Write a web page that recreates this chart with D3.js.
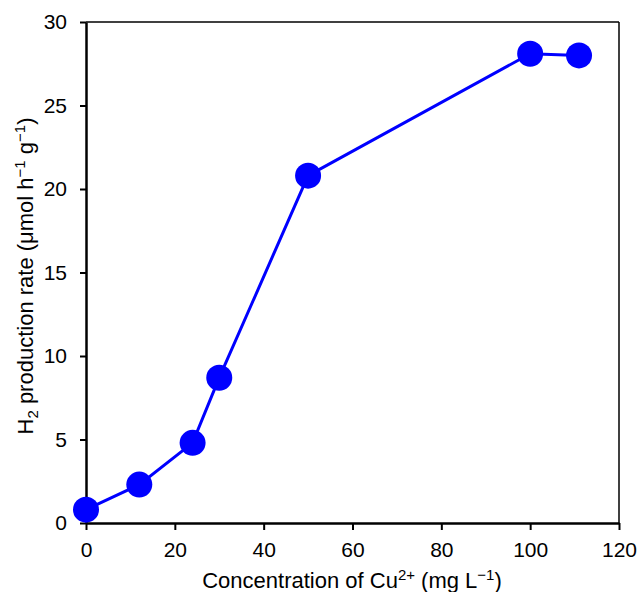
<!DOCTYPE html>
<html>
<head>
<meta charset="utf-8">
<script src="https://cdn.jsdelivr.net/npm/d3@7"></script>
<style>
  body { margin: 0; background: #fff; }
  text { font-family: "Liberation Sans", Arial, sans-serif; fill: #000; }
</style>
</head>
<body>
<svg id="chart" width="638" height="592"></svg>
<script>
// data
const concentration = [0, 12, 24, 30, 50, 100, 111];
const h2Rate = [0.8, 2.3, 4.8, 8.7, 20.8, 28.1, 28.0];
const xTicks = [0, 20, 40, 60, 80, 100, 120];
const yTicks = [0, 5, 10, 15, 20, 25, 30];

const svg = d3.select("#chart");
const margin = { left: 86, top: 22, right: 19, bottom: 69 };
const width = 638 - margin.left - margin.right;
const height = 592 - margin.top - margin.bottom;

const x = d3.scaleLinear().domain([0, 120]).range([0, width]);
const y = d3.scaleLinear().domain([0, 30]).range([height, 0]);

const g = svg.append("g").attr("transform", `translate(${margin.left},${margin.top})`);

// top and right frame lines
g.append("line").attr("x1", 0).attr("x2", width).attr("y1", 0).attr("y2", 0)
  .attr("stroke", "#000").attr("stroke-width", 1.5);
g.append("line").attr("x1", width).attr("x2", width).attr("y1", 0).attr("y2", height)
  .attr("stroke", "#000").attr("stroke-width", 1.5);

// x axis
const xAxis = g.append("g").attr("transform", `translate(0,${height})`)
  .call(d3.axisBottom(x).tickValues(xTicks).tickSize(7).tickPadding(12).tickSizeOuter(0));
// y axis
const yAxis = g.append("g")
  .call(d3.axisLeft(y).tickValues(yTicks).tickSize(6).tickPadding(13).tickSizeOuter(0));

[xAxis, yAxis].forEach(a => {
  a.attr("font-size", null).attr("font-family", null);
  a.select(".domain").attr("stroke", "#000").attr("stroke-width", 2.5);
  a.selectAll(".tick line").attr("stroke", "#000").attr("stroke-width", 2);
  a.selectAll(".tick text").style("font-size", "21px").attr("fill", "#000");
});

// line + markers
const pts = concentration.map((c, i) => [c, h2Rate[i]]);
g.append("path").datum(pts)
  .attr("fill", "none").attr("stroke", "#0000ff").attr("stroke-width", 3)
  .attr("d", d3.line().x(d => x(d[0])).y(d => y(d[1])));

g.selectAll("circle.pt").data(pts).enter().append("circle")
  .attr("class", "pt")
  .attr("cx", d => x(d[0])).attr("cy", d => y(d[1]))
  .attr("r", 13).attr("fill", "#0000ff");

// axis titles
const xt = svg.append("text")
  .attr("x", 352).attr("y", 588)
  .attr("text-anchor", "middle").style("font-size", "22px");
xt.append("tspan").text("Concentration of Cu");
xt.append("tspan").attr("dy", -8).style("font-size", "15px").text("2+");
xt.append("tspan").attr("dy", 8).text(" (mg L");
xt.append("tspan").attr("dy", -8).style("font-size", "15px").text("\u22121");
xt.append("tspan").attr("dy", 8).text(")");

const yt = svg.append("text")
  .attr("transform", `translate(33,276) rotate(-90)`)
  .attr("text-anchor", "middle").style("font-size", "22px");
yt.append("tspan").text("H");
yt.append("tspan").attr("dy", 5).style("font-size", "15px").text("2");
yt.append("tspan").attr("dy", -5).text(" production rate (\u03bcmol h");
yt.append("tspan").attr("dy", -8).style("font-size", "15px").text("\u22121");
yt.append("tspan").attr("dy", 8).text(" g");
yt.append("tspan").attr("dy", -8).style("font-size", "15px").text("\u22121");
yt.append("tspan").attr("dy", 8).text(")");
</script>
</body>
</html>
